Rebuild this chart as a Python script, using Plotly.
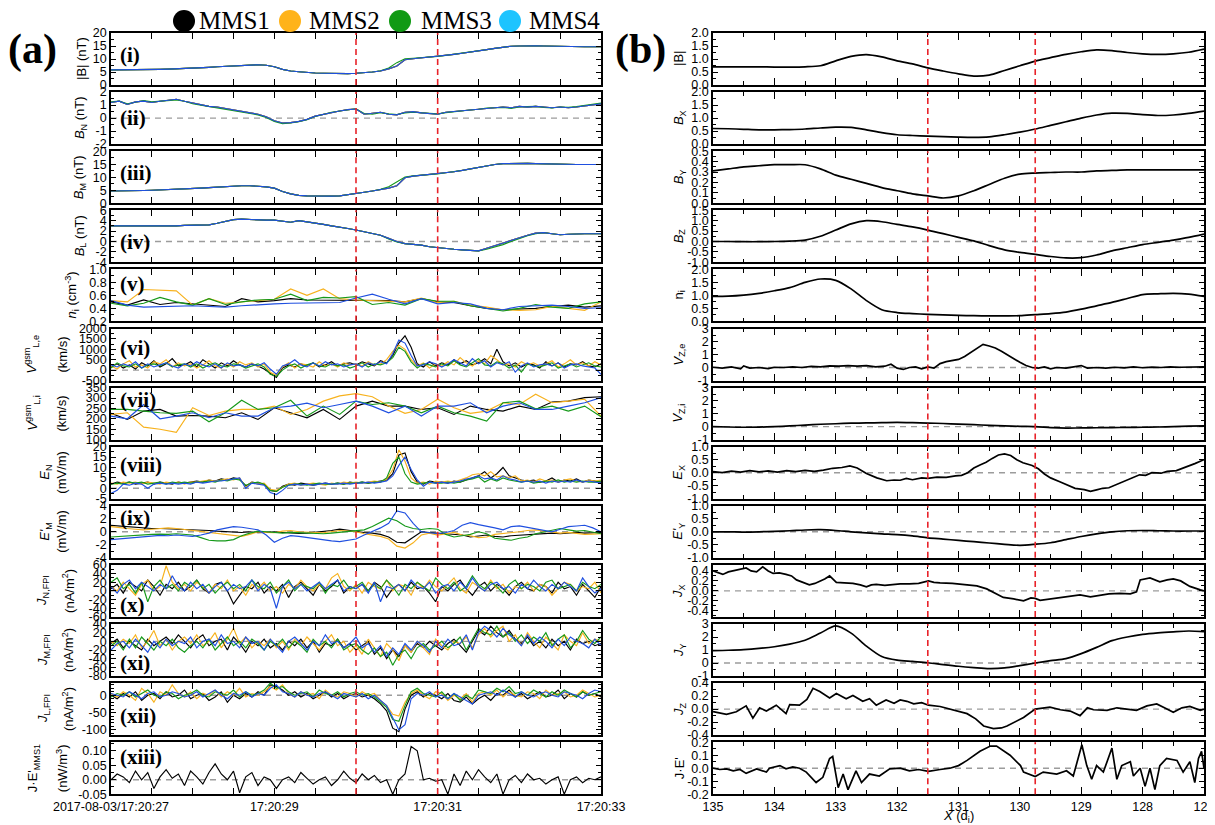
import numpy as np
import plotly.graph_objects as go

# ======================= DATA =======================
SPACECRAFT = ["MMS1", "MMS2", "MMS3", "MMS4"]

TIME_RANGE = [27.0, 33.0]            # seconds after 2017-08-03/17:20:00
TIME_TICK_VALUES = [27.0, 29.0, 31.0, 33.0]
TIME_TICK_TEXT = ["2017-08-03/17:20:27", "17:20:29", "17:20:31", "17:20:33"]
TIME_MARKERS = [30.0, 31.0]

X_RANGE = [135.0, 127.0]             # X (d_i)
X_TICK_VALUES = [135, 134, 133, 132, 131, 130, 129, 128, 127]
X_TICK_TEXT = ["135", "134", "133", "132", "131", "130", "129", "128", "127"]
X_MARKERS = [131.5, 129.75]

# ---- (a) magnetic field, 0.1 s cadence ----
BT_A = [5.8, 5.8, 5.9, 5.9, 5.9, 6.0, 6.0, 6.1, 6.2, 6.3,
        6.5, 6.6, 6.8, 7.0, 7.2, 7.4, 7.5, 7.7, 7.8, 7.6,
        7.0, 6.0, 5.4, 5.1, 4.8, 4.6, 4.5, 4.4, 4.4, 4.4,
        4.5, 4.7, 5.0, 5.4, 6.2, 7.3, 9.7, 10.1, 10.4, 10.7,
        11.0, 11.4, 11.8, 12.2, 12.6, 13.1, 13.6, 14.1, 14.6, 14.9,
        15.0, 15.1, 15.1, 15.0, 14.9, 14.9, 14.8, 14.8, 14.7, 14.7,
        14.7]
BT_C = [5.8, 5.8, 5.9, 5.9, 5.9, 6.0, 6.0, 6.1, 6.2, 6.3,
        6.5, 6.6, 6.8, 7.0, 7.2, 7.4, 7.5, 7.7, 7.8, 7.6,
        7.0, 6.0, 5.4, 5.1, 4.8, 4.6, 4.5, 4.4, 4.4, 4.4,
        4.5, 4.7, 5.0, 5.5, 6.5, 8.6, 10.1, 10.3, 10.5, 10.7,
        11.0, 11.4, 11.8, 12.2, 12.6, 13.1, 13.6, 14.1, 14.6, 14.9,
        15.0, 15.1, 15.1, 15.0, 14.9, 14.9, 14.8, 14.8, 14.7, 14.7,
        14.7]
BN_A = [1.2, 1.3, 1.05, 1.25, 1.3, 1.2, 1.3, 1.35, 1.45, 1.3,
        1.15, 1.0, 0.9, 0.85, 0.75, 0.65, 0.55, 0.45, 0.3, 0.1,
        -0.2, -0.38, -0.35, -0.25, -0.1, 0.15, 0.3, 0.45, 0.55, 0.65,
        0.7, 0.3, 0.35, 0.45, 0.3, 0.25, 0.45, 0.5, 0.4, 0.35,
        0.3, 0.45, 0.5, 0.55, 0.6, 0.7, 0.75, 0.8, 0.85, 0.8,
        0.9, 0.85, 0.9, 0.85, 0.8, 0.85, 0.8, 0.85, 0.95, 1.05,
        1.1]
BN_C = [1.25, 1.3, 1.1, 1.2, 1.35, 1.25, 1.3, 1.4, 1.4, 1.3,
        1.1, 1.0, 0.9, 0.8, 0.7, 0.6, 0.5, 0.4, 0.25, 0.05,
        -0.25, -0.42, -0.38, -0.28, -0.12, 0.12, 0.3, 0.45, 0.55, 0.65,
        0.72, 0.35, 0.3, 0.42, 0.32, 0.28, 0.4, 0.45, 0.42, 0.35,
        0.32, 0.42, 0.5, 0.55, 0.62, 0.68, 0.78, 0.8, 0.82, 0.75,
        0.85, 0.88, 0.9, 0.82, 0.78, 0.85, 0.82, 0.88, 0.98, 1.1,
        1.15]
BM_A = [4.7, 4.7, 4.8, 4.8, 4.9, 5.0, 5.1, 5.2, 5.3, 5.5,
        5.6, 5.8, 6.0, 6.2, 6.4, 6.6, 6.7, 6.7, 6.6, 6.3,
        5.8, 4.5, 3.6, 3.0, 2.8, 2.7, 2.7, 2.7, 2.8, 3.2,
        3.8, 4.2, 4.7, 5.2, 5.8, 6.7, 9.8, 10.4, 10.7, 11.0,
        11.3, 11.7, 12.1, 12.6, 13.2, 13.8, 14.4, 14.9, 15.2, 15.3,
        15.3, 15.3, 15.2, 15.1, 15.0, 15.0, 14.9, 14.9, 14.9, 14.9,
        14.9]
BM_C = [4.7, 4.7, 4.8, 4.8, 4.9, 5.0, 5.1, 5.2, 5.3, 5.5,
        5.6, 5.8, 6.0, 6.2, 6.4, 6.6, 6.7, 6.7, 6.6, 6.3,
        5.8, 4.5, 3.6, 3.0, 2.8, 2.7, 2.7, 2.7, 2.8, 3.2,
        3.8, 4.2, 4.7, 5.3, 6.3, 8.2, 10.1, 10.5, 10.7, 11.0,
        11.3, 11.7, 12.1, 12.6, 13.2, 13.8, 14.4, 14.9, 15.2, 15.3,
        15.3, 15.3, 15.2, 15.1, 15.0, 15.0, 14.9, 14.9, 14.9, 14.9,
        14.9]
BL_A = [3.0, 3.0, 2.9, 2.9, 3.0, 2.9, 3.0, 3.0, 3.0, 3.1,
        3.1, 3.1, 3.2, 3.5, 3.9, 4.2, 4.3, 4.2, 4.1, 4.1,
        4.1, 3.9, 3.7, 4.0, 3.8, 3.5, 3.3, 3.0, 2.8, 2.5,
        2.2, 1.9, 1.5, 1.2, 0.6, 0.0, -0.4, -0.5, -0.7, -1.0,
        -1.2, -1.4, -1.5, -1.6, -1.7, -1.8, -1.3, -0.8, -0.3, 0.3,
        0.8, 1.2, 1.6, 1.7, 1.5, 1.3, 1.4, 1.5, 1.5, 1.5,
        1.5]
BL_C = [3.0, 3.0, 2.9, 2.9, 3.0, 2.9, 3.0, 3.0, 3.0, 3.1,
        3.1, 3.1, 3.2, 3.5, 3.9, 4.2, 4.3, 4.2, 4.1, 4.1,
        4.1, 3.9, 3.7, 4.0, 3.8, 3.5, 3.3, 3.0, 2.8, 2.5,
        2.2, 1.9, 1.5, 1.2, 0.5, -0.1, -0.4, -0.5, -0.7, -1.0,
        -1.2, -1.4, -1.5, -1.6, -1.7, -1.8, -1.5, -1.1, -0.6, 0.0,
        0.6, 1.1, 1.5, 1.7, 1.5, 1.3, 1.4, 1.5, 1.5, 1.5,
        1.5]

# ---- ion density, 0.2 s cadence ----
NI_1 = [0.50, 0.45, 0.53, 0.46, 0.49, 0.47, 0.46, 0.43, 0.55, 0.50, 0.52, 0.55, 0.53, 0.53, 0.52, 0.53,
        0.52, 0.52, 0.50, 0.55, 0.50, 0.49, 0.44, 0.40, 0.38, 0.39, 0.40, 0.43, 0.45, 0.42, 0.44]
NI_2 = [0.52, 0.50, 0.69, 0.68, 0.67, 0.45, 0.55, 0.48, 0.50, 0.52, 0.54, 0.70, 0.60, 0.70, 0.55, 0.53,
        0.52, 0.51, 0.50, 0.56, 0.49, 0.51, 0.45, 0.42, 0.38, 0.37, 0.38, 0.43, 0.40, 0.37, 0.50]
NI_3 = [0.48, 0.44, 0.48, 0.57, 0.50, 0.45, 0.55, 0.46, 0.50, 0.53, 0.54, 0.62, 0.52, 0.57, 0.56, 0.58,
        0.46, 0.49, 0.45, 0.55, 0.51, 0.51, 0.44, 0.40, 0.36, 0.40, 0.46, 0.42, 0.40, 0.47, 0.50]
NI_4 = [0.52, 0.45, 0.42, 0.43, 0.44, 0.44, 0.43, 0.42, 0.44, 0.46, 0.47, 0.48, 0.48, 0.48, 0.49, 0.56,
        0.62, 0.54, 0.47, 0.55, 0.47, 0.49, 0.47, 0.40, 0.38, 0.43, 0.44, 0.45, 0.43, 0.40, 0.41]

# ---- electron outflow V_L,e, 0.075 s cadence ----
VLE_1 = [150, 300, 100, 250, 50, 350, 200, 450, 150, 300, 550, 200, 250,
         400, 150, 500, 300, 100, 350, 200, 450, 250, 150, 300, 200, 50, -150,
         -350, 100, 250, 150, 300, 200, 350, 150, 250, 400, 200, 300, 350,
         250, 400, 300, 200, 450, 350, 700, 1300, 1650, 1100, 300, 150, 400, 200,
         350, 250, 500, 300, 450, 250, 350, 550, 300, 1000, 400, 200, 350,
         150, 300, 250, 100, 400, 200, 350, 150, 300, 250, 400, 200, 150, 300]
VLE_2 = [200, 50, 300, 450, 150, 250, 100, 400, 300, 500, 150, 350, 200,
         300, 100, 250, 450, 200, 100, 300, 150, 400, 250, 350, 150, 300, -100,
         -250, 150, 350, 100, 300, 250, 150, 400, 200, 300, 150, 350, 250,
         300, 200, 400, 250, 300, 500, 900, 1200, 1000, 500, 200, 350, 100, 300,
         200, 400, 250, 600, 350, 200, 450, 300, 700, 500, 250, 300, 150,
         400, 250, 350, 200, 300, 450, 150, 300, 500, 250, 350, 200, 400, 250]
VLE_3 = [100, 350, 200, 150, 300, 100, 250, 300, 200, 350, 150, 250, 300,
         150, 300, 100, 250, 350, 200, 150, 300, 250, 100, 200, 300, 150, -200,
         -300, 0, 200, 300, 100, 250, 350, 200, 150, 300, 200, 250, 100,
         200, 350, 150, 300, 250, 350, 600, 1100, 900, 400, 100, 300, 250, 150,
         300, 200, 450, 250, 150, 350, 550, 250, 200, 400, 300, 100, 250,
         -100, 300, 200, 150, 250, 350, 100, 200, 300, 150, 250, 350, 200, 150]
VLE_4 = [250, 150, 300, 200, 400, 100, 300, 150, 250, 350, 200, 100, 300,
         200, 400, 250, 150, 300, 100, 350, 200, 250, 150, 300, 200, 350, 50,
         -200, 200, 300, 500, 250, 150, 350, 200, 400, 250, 300, 150, 250,
         300, 150, 350, 250, 400, 300, 800, 1450, 1300, 700, 200, 250, 400, 300,
         150, 300, 500, 350, 200, 550, 300, 450, 150, 350, 250, 400, -100,
         200, 350, 150, 250, 300, 200, 350, 100, 250, 300, 200, 150, 100, -200]

# ---- ion outflow V_L,i, 0.2 s cadence ----
VLI_1 = [226, 197, 237, 245, 213, 216, 213, 205, 229, 197, 253, 229, 205, 245, 197, 261,
         285, 261, 261, 245, 253, 221, 261, 245, 237, 261, 245, 281, 285, 302, 306]
VLI_2 = [221, 229, 160, 150, 135, 253, 216, 237, 245, 245, 261, 221, 245, 285, 310, 321,
         306, 261, 226, 245, 294, 253, 226, 237, 277, 269, 318, 277, 285, 294, 213]
VLI_3 = [245, 245, 237, 229, 226, 237, 186, 229, 289, 245, 253, 289, 213, 261, 221, 285,
         269, 277, 261, 229, 261, 229, 213, 189, 277, 285, 248, 261, 237, 261, 210]
VLI_4 = [213, 200, 269, 200, 213, 229, 205, 229, 213, 213, 253, 261, 275, 253, 269, 285,
         261, 229, 261, 213, 261, 261, 277, 229, 261, 277, 245, 245, 261, 277, 302]

# ---- E_N, 0.075 s cadence ----
EN_1 = [2, 3, 2.5, 3, 2, 2.5, 3, 2, 3, 2.5, 2, 3, 2.5,
        3, 3.5, 3, 4, 3.5, 4.5, 4, 5, 4.5, 1, 3, 2.5, 2, -1,
        -1.5, 1, 2, 1.5, 2.5, 2, 1.5, 2, 2.5, 2, 2.5, 2, 3,
        2.5, 3, 2.5, 3, 3.5, 4, 7, 16, 17, 8, 3, 2, 3.5, 3,
        3, 2.5, 3.5, 3, 4, 5, 6, 8, 5, 7, 10, 6, 5,
        4, 3.5, 4, 3, 3.5, 5, 3, 4, 3.5, 4.5, 3, 4, 3.5, 3]
EN_2 = [2.5, 2, 3, 2.5, 3, 2, 3, 2.5, 2, 3, 2.5, 3, 2,
        3, 3, 3.5, 4, 3.5, 4, 4.5, 4, 5, 0.5, 3, 2, 2.5, -0.5,
        -1, 0.5, 2, 2.5, 1.5, 2, 2.5, 2, 1.5, 2.5, 2, 3, 2.5,
        3, 2.5, 3, 3.5, 3, 4.5, 9, 18.5, 13, 5, 2.5, 3, 2, 3.5,
        3, 3.5, 3, 4, 5, 6.5, 7, 6, 8, 5.5, 6, 5, 6,
        3.5, 4, 3, 4.5, 3.5, 4, 3, 4, 4.5, 3.5, 3, 4, 3.5, 4]
EN_3 = [2, 2.5, 2, 3, 2.5, 3, 2, 2.5, 3, 2, 3, 2.5, 3,
        2.5, 3, 3, 3.5, 3, 4, 3.5, 4.5, 4, 1.5, 2.5, 3, 2, -1,
        -1.5, 0.5, 1.5, 2, 2, 1.5, 2, 2.5, 2, 2, 2.5, 2, 2.5,
        2.5, 3, 2.5, 3, 3, 5, 12, 15, 7, 3, 2, 2.5, 3, 2.5,
        2.5, 3, 2.5, 3, 4, 4.5, 5.5, 3, 4.5, 3.5, 5, 4, 3.5,
        3, 3.5, 2.5, 3, 3.5, 3, 4, 3, 3.5, 3, 3.5, 3, 3, 3.5]
EN_4 = [-2.5, -1, 2, 1.5, 2.5, 2, 0, 2, 2.5, 2, 2.5, 2, 2.5,
        2, 3, 2.5, 3, 3.5, 3.5, 4, 4.5, 5, 0, 2.5, 2, 1.5, -2,
        -3, -1, 1.5, 2, 1.5, 2, 1.5, 2, 2.5, 2, 2, 2.5, 2,
        2.5, 2.5, 3, 2.5, 3, 3.5, 6, 11, 15, 9, 4, 1, 3, 2.5,
        3, 2.5, 3, 3.5, 4.5, 5, 6, 4.5, 5, 4, 6, 4.5, 4,
        3, 3.5, 3, 3.5, 2.5, 3.5, 3, 3.5, 3, 4, 3, 3.5, 3, 2.5]

# ---- E'_M, 0.1 s cadence ----
EM_1 = [1.0, 0.9, 0.7, 0.6, 0.55, 0.5, 0.5, 0.45, 0.4, 0.45,
        0.4, 0.3, 0.2, 0.1, 0.0, -0.05, -0.1, 0.0, -0.15, -0.1,
        0.0, -0.1, -0.2, -0.25, -0.2, -0.1, 0.0, 0.2, 0.4, 0.2,
        0.0, -0.1, -0.2, -0.4, -0.8, -1.6, -1.7, -0.8, 0.0, -0.1,
        -0.2, -0.25, -0.3, -0.5, -0.8, -0.6, -0.5, -0.7, -0.8, -0.6,
        -0.5, -0.4, -0.35, -0.3, -0.2, -0.3, -0.2, -0.1, -0.2, -0.1,
        -0.1]
EM_2 = [0.8, 0.6, 0.5, 0.4, 0.3, 0.4, 0.5, 0.6, 0.5, 0.35,
        0.2, 0.0, -0.1, -0.2, -0.4, -0.6, -0.7, -0.4, 0.0, -0.1,
        -0.15, 0.1, 0.2, 0.0, -0.1, -0.1, -0.15, 0.0, 0.2, 0.1,
        0.0, -0.3, -0.5, -0.7, -1.1, -2.2, -2.5, -1.7, -0.5, -0.2,
        -0.5, -0.3, -0.1, -0.5, -0.6, -0.9, -0.8, -0.4, -0.3, -0.1,
        0.0, 0.2, 0.3, 0.1, 0.0, -0.2, -0.1, -0.3, -0.4, -0.35,
        -0.3]
EM_3 = [-0.8, -0.7, -0.6, -0.5, -0.4, -0.4, -0.35, -0.4, -0.3, -0.4,
        -0.5, -0.9, -1.3, -1.4, -1.4, -1.2, -0.6, -0.2, 0.1, 0.0,
        -0.15, -0.2, -0.1, -0.15, -0.25, -0.3, -0.3, -0.2, -0.1, 0.0,
        0.1, 0.3, 0.8, 1.4, 2.1, 1.7, 0.9, 0.5, 0.35, 0.5,
        0.4, -0.4, -0.8, -0.6, -0.4, 0.0, -0.3, -1.0, -1.2, -1.3,
        -1.0, -0.8, -0.3, 0.0, 0.3, 0.5, 0.3, 0.1, 0.2, 0.0,
        -0.3]
EM_4 = [-1.2, -1.1, -0.9, -0.8, -0.7, -0.6, -0.55, -0.6, -0.5, -0.6,
        -0.7, -0.5, -0.2, 0.3, 0.6, 0.8, 0.7, 0.5, 0.3, -0.5,
        -1.6, -1.0, -0.6, -0.7, -0.9, -1.0, -1.2, -1.4, -1.5, -1.3,
        -1.1, -0.5, 0.0, 0.6, 1.3, 3.2, 2.9, 1.3, 0.0, -0.2,
        -0.3, -0.1, 0.2, 1.0, 1.4, 1.1, 0.9, 0.6, 0.3, 0.8,
        0.9, 0.7, 0.5, 0.2, 0.0, 0.4, 0.8, 0.9, 1.0, 0.6,
        0.0]

# ---- FPI currents, 0.075 s cadence ----
JN_1 = [5, 15, -5, 20, 10, 0, 25, 10, -10, 15, 5, 20, 0,
        10, 25, 5, -5, 15, 20, 0, -30, -10, 10, 5, 20, -5, 10,
        0, 15, -15, 10, 20, 5, -10, 15, 0, 10, 25, -5, 10,
        5, 15, 0, 20, 10, -15, 5, 15, 0, 20, 5, 10, -5, -25,
        10, 0, 15, 25, 5, -10, 10, 20, 0, 15, 5, -10, 10,
        20, 5, 0, 15, 10, -5, 20, 5, 10, -10, 15, 0, -15, 10]
JN_2 = [10, 0, 20, 5, -10, 15, 25, 0, 10, 58, 20, 5, 15,
        0, 20, 10, -5, 15, 5, 25, 0, 10, -10, 15, 5, 20, 0,
        10, -5, 15, 5, 25, 10, 0, 15, 5, 30, 40, 10, 0,
        15, -5, 20, 10, 5, 25, 0, 15, 10, -10, 20, 5, 25, 10,
        0, 15, 30, 5, -5, 20, 10, 0, 25, 5, 15, -5, 10,
        5, 20, 0, 15, 10, -10, 5, 20, 15, 0, 10, 5, 20, -5]
JN_3 = [20, 30, 5, 15, -5, 20, -25, 10, 25, 5, 15, 0, 20,
        10, 25, 5, 15, -5, 10, 20, 5, 15, 0, 25, 10, 5, 20,
        -5, 10, 25, 0, 15, 10, 5, 20, -5, 15, 10, 25, 5,
        10, 20, 0, 15, 5, 25, 10, -10, 15, 5, 20, 10, 0, 30,
        15, 5, 20, 0, 10, 35, 15, 5, 20, 10, -5, 15, 25,
        5, 15, 10, 0, 20, 25, 5, 10, 15, 0, 20, 10, 5, 15]
JN_4 = [10, -5, 15, 25, 5, 20, 10, 0, 15, 5, 35, 10, 0,
        20, 5, 15, -5, 10, 20, 0, 15, 5, 10, 25, 0, 15, 5,
        -40, 10, 20, 5, 15, 0, 10, 20, 5, 15, 25, 0, 10,
        5, 15, -5, 20, -25, 10, 5, 15, 0, 25, 10, 5, 20, -5,
        10, 15, 0, 20, 5, 30, 10, 0, 15, 20, 5, 10, -5,
        15, 5, 25, 10, 0, 15, 5, 20, 10, 0, 30, 10, -5, 5]

JM_1 = [-5, 5, -15, 0, -10, -20, 5, -10, 0, 10, -5, 15, 0,
        -15, 5, 15, -10, 0, 5, -20, 10, -5, -25, 0, -10, 5, -15,
        -5, -20, 0, -10, 5, -15, 0, -25, -5, -10, 5, -15, -5,
        -20, -10, 0, -30, -15, -40, -20, -35, -10, -25, -5, -15, 0, -10,
        -20, -5, 5, -10, -25, 0, 25, 15, 35, 20, 10, 25, 5,
        -5, 10, -10, 0, -15, 5, -10, 0, -20, 5, -5, 0, -10, -5]
JM_2 = [0, -10, 5, -5, 15, -15, 0, 25, -10, 5, -20, 0, 10,
        -5, 15, -10, 0, 20, -15, 5, 30, -5, 10, -15, 0, -10, 5,
        -15, 0, -20, 5, -10, 10, -5, -20, 0, 15, -10, 0, -25,
        -10, -30, 5, -15, -35, -5, -20, -45, -10, -25, 0, -15, -30, 5,
        -10, -20, 0, -5, 10, -15, 15, 30, 10, 25, 35, 0, 15,
        -10, 20, 0, -15, 10, -5, -20, 15, 0, -10, 20, -5, 5, 0]
JM_3 = [-10, 0, -20, 5, -15, 10, -5, -20, 0, -10, 5, -15, -25,
        -10, 0, -15, 5, -20, -5, 10, -10, 0, -15, 5, -5, -20, 0,
        -10, 5, -15, 0, -10, -25, 5, -10, 0, -15, 5, -20, -10,
        -5, -20, -30, -15, -35, -25, -55, -30, -20, -40, -15, -5, -20, -10,
        0, -15, -5, 10, -20, 5, 30, 20, 15, 35, 10, 20, 0,
        15, -5, 10, 0, 20, -10, 5, 15, -15, 0, 25, 5, -5, 10]
JM_4 = [-20, -5, 0, -15, 5, -10, -25, 0, -15, 5, -10, 0, -5,
        10, -15, 0, 5, -10, 15, -5, 0, -15, 10, -5, 0, -20, 5,
        -10, -25, 0, 10, -5, -20, 0, -10, 15, -5, 0, -15, -5,
        10, -15, -5, -25, -10, -35, -15, -30, -5, -20, 0, -10, -25, 0,
        -15, 5, -10, -5, 15, -20, 20, 35, 25, 10, 30, 15, 5,
        -10, 15, -5, 10, 0, -15, 5, -10, 10, 0, -5, -15, 5, -10]

JL_1 = [0, -10, 5, -5, 10, -15, 0, 5, -10, 10, -5, 0, 15,
        -10, 0, 5, -15, -5, 10, -20, 0, -10, 5, -5, 10, 0, 30,
        25, 15, 0, 10, -5, 5, -10, 0, 10, -5, 5, -10, 0,
        5, -5, 0, -10, -25, -45, -95, -105, -40, 0, 10, -5, 5, 0,
        -10, 5, -15, -20, -5, -25, -10, 0, -15, 5, 0, 15, -5,
        5, -10, 0, 10, -5, 0, 15, -10, 5, -5, 10, 0, 5, -5]
JL_2 = [5, -5, 10, 0, -15, 20, 5, -20, 10, 0, 30, 5, -5,
        10, -10, 5, 0, 15, -5, 10, 0, 20, -5, 5, 0, 10, 25,
        15, 30, 5, -5, 10, 0, 5, -10, 15, 0, -5, 10, 5,
        -5, 10, 0, 5, -15, -30, -55, -60, -20, 5, 15, 0, -10, 10,
        5, -15, 0, -10, 5, -20, 5, 10, 0, 15, -5, 10, 0,
        -5, 10, 5, -10, 15, 0, 5, 10, -5, 0, 15, 5, -5, 0]
JL_3 = [-5, 5, 0, 10, -5, 5, 15, 0, -5, 10, 5, -10, 0,
        5, 15, 0, -5, 10, 5, 0, 15, -5, 10, 0, 5, 15, 35,
        20, 25, 10, 0, 5, 10, -5, 15, 5, 0, 10, -5, 5,
        10, 0, 5, -5, -20, -35, -70, -75, -30, 10, 20, 5, 0, -5,
        10, -10, 5, -15, 0, -10, 15, 10, 5, 20, 10, 25, 5,
        10, 0, 15, 5, -5, 10, 0, 15, 5, -5, 10, 0, 5, 10]
JL_4 = [5, 0, -5, 10, 0, -10, 5, 10, -5, 0, 10, 5, -5,
        0, 10, -5, 5, 15, 0, -10, 5, 0, 10, -5, 5, 0, 20,
        30, 10, 5, -5, 10, 0, -5, 5, 10, 0, -10, 5, 0,
        -5, 5, -10, 0, -15, -30, -65, -100, -85, -10, 5, 0, 10, -5,
        0, -10, 5, -5, -15, -25, 0, 5, 10, 0, 15, 5, -5,
        10, 0, -5, 5, 10, 0, -5, 10, 5, 0, -10, 5, 15, 10]

JE_1 = [0.0, 0.02, 0.01, -0.01, 0.03, 0.0, 0.025, -0.03, 0.01, 0.035, 0.005, 0.02, -0.02,
        0.03, 0.01, -0.015, 0.025, 0.055, 0.02, 0.0, 0.03, -0.045, 0.01, 0.025, -0.02, 0.01, 0.0,
        -0.03, 0.0, 0.01, -0.01, 0.025, 0.005, -0.015, 0.0, 0.01, -0.02, 0.0, 0.03, 0.005,
        -0.01, 0.02, 0.0, 0.015, -0.01, 0.0, -0.05, 0.0, 0.02, 0.115, 0.10, 0.0, 0.005, -0.005,
        0.0, -0.05, 0.02, -0.02, 0.03, 0.0, 0.035, 0.01, -0.01, 0.02, -0.05, 0.0, 0.015,
        -0.01, 0.02, 0.0, 0.005, -0.015, 0.0, 0.01, -0.05, 0.0, 0.01, -0.01, 0.005, 0.0, 0.01]

# ---- (b) simulation cut, 0.25 d_i spacing from X=135 to 127 ----
R_BT = [0.70, 0.70, 0.70, 0.70, 0.69, 0.69, 0.70, 0.74, 0.93, 1.10, 1.17, 1.08, 0.93, 0.81, 0.66, 0.54, 0.43,
        0.34, 0.38, 0.56, 0.74, 0.92, 1.05, 1.18, 1.28, 1.35, 1.32, 1.25, 1.20, 1.18, 1.20, 1.26, 1.38]
R_BX = [0.60, 0.59, 0.57, 0.55, 0.55, 0.56, 0.58, 0.62, 0.65, 0.64, 0.55, 0.44, 0.36, 0.33, 0.31, 0.29, 0.27,
        0.26, 0.28, 0.36, 0.46, 0.58, 0.72, 0.86, 1.00, 1.12, 1.19, 1.18, 1.13, 1.10, 1.12, 1.18, 1.27]
R_BY = [0.31, 0.33, 0.35, 0.36, 0.37, 0.37, 0.37, 0.33, 0.27, 0.23, 0.19, 0.15, 0.12, 0.09, 0.07, 0.05, 0.07,
        0.12, 0.18, 0.24, 0.28, 0.29, 0.295, 0.30, 0.30, 0.31, 0.315, 0.32, 0.32, 0.32, 0.32, 0.32, 0.32]
R_BZ = [0.00, 0.00, -0.01, -0.01, 0.00, 0.02, 0.07, 0.25, 0.55, 0.85, 1.00, 0.95, 0.82, 0.70, 0.55, 0.38, 0.20,
        0.03, -0.20, -0.40, -0.52, -0.62, -0.72, -0.79, -0.78, -0.65, -0.45, -0.30, -0.15, -0.04, 0.07, 0.20, 0.36]
R_NI = [0.96, 0.97, 1.01, 1.08, 1.18, 1.30, 1.50, 1.63, 1.58, 1.25, 0.80, 0.45, 0.34, 0.30, 0.27, 0.25, 0.23,
        0.22, 0.21, 0.21, 0.22, 0.26, 0.30, 0.36, 0.47, 0.60, 0.73, 0.88, 1.03, 1.06, 1.08, 1.05, 0.96]
R_VZI = [0.0, -0.03, -0.05, -0.04, 0.0, 0.05, 0.12, 0.18, 0.22, 0.26, 0.28, 0.30, 0.32, 0.30, 0.27, 0.24, 0.19,
         0.15, 0.10, 0.06, 0.02, 0.0, -0.08, -0.12, -0.10, -0.09, -0.08, -0.06, -0.05, -0.03, 0.0, 0.03, 0.06]
R_EY = [0.0, 0.0, -0.01, 0.0, 0.02, 0.04, 0.07, 0.08, 0.05, 0.0, -0.04, -0.08, -0.11, -0.16, -0.23, -0.28, -0.33,
        -0.38, -0.43, -0.48, -0.52, -0.48, -0.42, -0.30, -0.18, -0.08, 0.0, 0.04, 0.05, 0.04, 0.03, 0.03, 0.03]
R_JY = [0.95, 0.98, 1.03, 1.12, 1.25, 1.45, 1.75, 2.30, 2.85, 2.30, 1.30, 0.50, 0.22, 0.12, 0.02, -0.12, -0.25,
        -0.35, -0.43, -0.38, -0.20, 0.0, 0.18, 0.34, 0.72, 1.20, 1.72, 2.00, 2.20, 2.32, 2.40, 2.46, 2.42]

R_VZE_X = [135.0, 134.85, 134.7, 134.55, 134.5, 134.4, 134.25, 134.1, 134.0, 133.85, 133.7, 133.55, 133.4,
           133.25, 133.1, 132.95, 132.8, 132.65, 132.5, 132.35, 132.2, 132.1, 132.0, 131.9, 131.8, 131.7,
           131.6, 131.5, 131.4, 131.3, 131.2, 131.1, 131.0, 130.9, 130.8, 130.7, 130.6, 130.5, 130.4, 130.3,
           130.2, 130.1, 130.0, 129.9, 129.8, 129.7, 129.6, 129.5, 129.4, 129.25, 129.1, 129.0, 128.9,
           128.75, 128.6, 128.45, 128.3, 128.15, 128.0, 127.85, 127.7, 127.55, 127.4, 127.25, 127.1, 127.0]
R_VZE = [0.02, -0.05, 0.05, -0.1, 0.12, -0.05, 0.0, -0.08, 0.02, 0.0, 0.05, 0.0, 0.08,
         0.05, 0.12, 0.1, 0.15, 0.1, 0.15, 0.05, 0.1, 0.25, -0.05, -0.15, 0.0, 0.05,
         -0.1, 0.05, -0.05, 0.3, 0.45, 0.55, 0.62, 0.85, 1.15, 1.45, 1.78, 1.65, 1.5, 1.25,
         0.95, 0.65, 0.4, 0.15, 0.0, -0.05, 0.05, -0.1, 0.0, -0.05, 0.05, 0.15, -0.05,
         0.0, -0.05, 0.02, -0.03, 0.05, -0.02, 0.03, 0.0, 0.05, 0.02, 0.05, 0.03, 0.05]

R_EX_X = [135.0, 134.85, 134.7, 134.55, 134.4, 134.25, 134.1, 133.95, 133.8, 133.65, 133.5, 133.35, 133.2,
          133.05, 132.9, 132.77, 132.65, 132.5, 132.33, 132.17, 132.05, 131.95, 131.85, 131.75, 131.6, 131.5,
          131.35, 131.2, 131.05, 130.95, 130.85, 130.75, 130.65, 130.55, 130.45, 130.35, 130.25, 130.15,
          130.05, 129.95, 129.8, 129.7, 129.6, 129.5, 129.35, 129.2, 129.1, 128.95, 128.85, 128.75, 128.65,
          128.55, 128.45, 128.35, 128.25, 128.15, 128.05, 127.95, 127.85, 127.7, 127.6, 127.45, 127.3,
          127.15, 127.0]
R_EX = [0.04, 0.0, 0.06, 0.02, 0.08, 0.03, 0.07, 0.02, 0.08, 0.04, 0.09, 0.05, 0.1,
        0.17, 0.2, 0.26, 0.18, -0.03, -0.2, -0.31, -0.28, -0.29, -0.22, -0.27, -0.2, -0.22,
        -0.17, -0.18, -0.12, -0.1, 0.0, 0.18, 0.3, 0.4, 0.55, 0.68, 0.72, 0.66,
        0.5, 0.38, 0.28, 0.15, -0.05, -0.2, -0.35, -0.5, -0.6, -0.65, -0.72, -0.66, -0.6,
        -0.58, -0.48, -0.38, -0.28, -0.2, -0.08, -0.1, 0.0, -0.02, 0.05, 0.08, 0.2,
        0.35, 0.5]

R_JX_X = [135.0, 134.92, 134.84, 134.75, 134.67, 134.56, 134.46, 134.38, 134.29, 134.19, 134.1, 134.02,
          133.92, 133.81, 133.72, 133.64, 133.53, 133.43, 133.34, 133.26, 133.18, 133.1, 132.99, 132.86,
          132.72, 132.6, 132.5, 132.42, 132.34, 132.2, 132.07, 131.95, 131.8, 131.65, 131.49, 131.4, 131.3,
          131.1, 130.86, 130.7, 130.54, 130.4, 130.27, 130.1, 129.94, 129.82, 129.75, 129.67, 129.5,
          129.34, 129.2, 129.02, 128.85, 128.69, 128.55, 128.37, 128.2, 128.1, 128.04, 127.88, 127.72,
          127.6, 127.5, 127.38, 127.23, 127.06, 127.0]
R_JX = [0.40, 0.36, 0.33, 0.38, 0.40, 0.43, 0.46, 0.40, 0.38, 0.48, 0.40, 0.35,
        0.36, 0.33, 0.30, 0.22, 0.16, 0.12, 0.15, 0.19, 0.24, 0.30, 0.17, 0.16,
        0.15, 0.12, 0.08, 0.12, 0.13, 0.11, 0.13, 0.14, 0.14, 0.15, 0.20, 0.17, 0.16,
        0.15, 0.12, 0.10, 0.04, -0.05, -0.13, -0.16, -0.20, -0.14, -0.15, -0.19, -0.16,
        -0.13, -0.11, -0.08, -0.12, -0.08, -0.06, -0.05, -0.06, -0.02, 0.22, 0.26, 0.18,
        0.22, 0.24, 0.20, 0.09, 0.02, 0.0]

R_JZ_X = [135.0, 134.78, 134.62, 134.46, 134.35, 134.24, 134.13, 133.97, 133.81, 133.75, 133.59, 133.47,
          133.37, 133.26, 133.1, 132.99, 132.83, 132.72, 132.56, 132.45, 132.34, 132.18, 132.05, 131.95,
          131.84, 131.73, 131.6, 131.49, 131.3, 131.14, 131.0, 130.86, 130.72, 130.59, 130.43, 130.3,
          130.21, 130.08, 129.94, 129.75, 129.63, 129.51, 129.34, 129.18, 129.02, 128.9, 128.8, 128.58,
          128.42, 128.26, 128.1, 127.93, 127.77, 127.62, 127.5, 127.36, 127.23, 127.06, 127.0]
R_JZ = [-0.04, -0.08, -0.04, 0.05, -0.14, 0.02, -0.03, 0.06, -0.07, 0.07, 0.06, 0.15,
        0.32, 0.27, 0.17, 0.24, 0.16, 0.21, 0.12, 0.16, 0.06, 0.14, 0.09, 0.14,
        0.12, 0.08, 0.10, 0.06, 0.04, 0.0, -0.03, -0.07, -0.15, -0.26, -0.30, -0.29,
        -0.26, -0.20, -0.13, 0.0, 0.02, 0.03, -0.01, -0.03, -0.10, 0.02, -0.01, -0.02,
        0.02, 0.0, -0.02, 0.05, 0.08, 0.01, -0.05, 0.02, 0.04, -0.02, 0.0]

R_JE_X = [135.0, 134.89, 134.78, 134.67, 134.56, 134.46, 134.29, 134.13, 134.08, 133.91, 133.81, 133.7,
          133.59, 133.48, 133.32, 133.21, 133.1, 133.05, 132.96, 132.88, 132.8, 132.67, 132.58, 132.45,
          132.29, 132.12, 131.95, 131.8, 131.65, 131.49, 131.3, 131.14, 131.0, 130.86, 130.65, 130.48,
          130.38, 130.16, 129.99, 129.94, 129.75, 129.62, 129.4, 129.24, 129.13, 128.99, 128.91, 128.83,
          128.75, 128.64, 128.5, 128.42, 128.34, 128.2, 128.15, 128.04, 127.96, 127.88, 127.8, 127.72,
          127.61, 127.44, 127.34, 127.23, 127.15, 127.09, 127.04, 127.0]
R_JE = [0.0, -0.01, -0.005, -0.02, -0.01, -0.04, -0.005, -0.03, 0.0, 0.02, -0.005, 0.01,
        0.0, -0.03, -0.11, -0.07, 0.075, 0.09, -0.15, -0.045, -0.165, -0.02, -0.11, -0.045,
        -0.06, -0.005, 0.0, -0.02, -0.01, -0.025, -0.01, 0.0, 0.02, 0.06, 0.13, 0.17,
        0.17, 0.1, 0.02, -0.03, -0.064, -0.03, -0.045, -0.02, -0.06, 0.18, 0.02, -0.085,
        0.02, -0.03, 0.155, -0.085, 0.02, 0.05, -0.06, 0.0, -0.14, 0.0, -0.165, 0.02,
        0.075, 0.06, -0.03, 0.05, -0.11, 0.075, 0.13, 0.0]

# ======================= FIGURE =======================
# The page puts the figure 8 px in from the window's top-left corner; all pixel
# positions below are window pixels converted with that 8 px offset.  The figure
# is made a little larger than the visible area so edge labels are never clipped.
OX, OY = 8, 8
W, H = 1215, 825
SANS = "Liberation Sans, Arial, sans-serif"
SERIF = "Liberation Serif, Times New Roman, serif"
LINE_COLORS = ["#000000", "#F7B21E", "#16991A", "#1F4FE0"]
LEGEND_COLORS = ["#000000", "#FFB31A", "#119A14", "#1DC4FF"]


def fx(px):
    return (px - OX) / W


def fy(py):
    return 1 - (py - OY) / H


LEFT_SERIES = [
    [BT_A, BT_A, BT_C, BT_A], [BN_A, BN_A, BN_C, BN_A], [BM_A, BM_A, BM_C, BM_A], [BL_A, BL_A, BL_C, BL_A],
    [NI_1, NI_2, NI_3, NI_4], [VLE_1, VLE_2, VLE_3, VLE_4], [VLI_1, VLI_2, VLI_3, VLI_4],
    [EN_1, EN_2, EN_3, EN_4], [EM_1, EM_2, EM_3, EM_4], [JN_1, JN_2, JN_3, JN_4],
    [JM_1, JM_2, JM_3, JM_4], [JL_1, JL_2, JL_3, JL_4], [JE_1],
]
# (range, tick start, tick stop, tick step, minor step, decimals, zero line)
LEFT_AXES = [
    ((0, 20), 0, 20, 5, 2.5, 0, False),
    ((-2, 2), -2, 2, 1, 0.5, 0, True),
    ((0, 20), 0, 20, 5, 2.5, 0, False),
    ((-4, 6), -4, 6, 2, 1, 0, True),
    ((0.2, 1.0), 0.2, 1.0, 0.2, 0.1, 1, False),
    ((-500, 2000), -500, 2000, 500, 250, 0, True),
    ((100, 350), 100, 350, 50, 25, 0, False),
    ((-5, 20), -5, 20, 5, 2.5, 0, True),
    ((-4, 4), -4, 4, 2, 1, 0, True),
    ((-60, 60), -60, 60, 20, 10, 0, True),
    ((-80, 40), -80, 40, 20, 10, 0, True),
    ((-115, 35), -100, 0, 50, 10, 0, True),
    ((-0.05, 0.13), -0.05, 0.10, 0.05, 0.025, 2, True),
]
LEFT_TITLES = [
    (["|B| (nT)"], [82]),
    (["<i>B</i><sub>N</sub> (nT)"], [80]),
    (["<i>B</i><sub>M</sub> (nT)"], [79]),
    (["<i>B</i><sub>L</sub> (nT)"], [80]),
    (["<i>n</i><sub>i</sub> (cm<sup>-3</sup>)"], [72]),
    (["<i>V</i><sup>gsm</sup><sub>L,e</sub>", "(km/s)"], [32, 62]),
    (["<i>V</i><sup>gsm</sup><sub>L,i</sub>", "(km/s)"], [32, 62]),
    (["<i>E</i><sub>N</sub>", "(mV/m)"], [46, 62]),
    (["<i>E'</i><sub>M</sub>", "(mV/m)"], [46, 62]),
    (["<i>J</i><sub>N,FPI</sub>", "(nA/m<sup>2</sup>)"], [43, 68]),
    (["<i>J</i><sub>M,FPI</sub>", "(nA/m<sup>2</sup>)"], [43, 68]),
    (["<i>J</i><sub>L,FPI</sub>", "(nA/m<sup>2</sup>)"], [43, 68]),
    (["J·E'<sub>MMS1</sub>", "(nW/m<sup>3</sup>)"], [33, 62]),
]
PANEL_LABELS = ["(i)", "(ii)", "(iii)", "(iv)", "(v)", "(vi)", "(vii)", "(viii)", "(ix)",
                "(x)", "(xi)", "(xii)", "(xiii)"]
PANEL_LABEL_Y = [55, 118, 173, 242, 284, 348, 400, 465, 518, 605, 663, 716, 757]

RIGHT_SERIES = [
    (None, R_BT, "spline"), (None, R_BX, "spline"), (None, R_BY, "spline"), (None, R_BZ, "spline"),
    (None, R_NI, "spline"), (R_VZE_X, R_VZE, "linear"), (None, R_VZI, "spline"),
    (R_EX_X, R_EX, "linear"), (None, R_EY, "spline"), (R_JX_X, R_JX, "linear"),
    (None, R_JY, "spline"), (R_JZ_X, R_JZ, "linear"), (R_JE_X, R_JE, "linear"),
]
RIGHT_AXES = [
    ((0, 2), 0, 2, 0.5, 0.25, 1, False),
    ((0, 2), 0, 2, 0.5, 0.25, 1, False),
    ((0, 0.5), 0, 0.5, 0.1, 0.05, 1, False),
    ((-1, 1.5), -1, 1.5, 0.5, 0.25, 1, True),
    ((0, 2), 0, 2, 0.5, 0.25, 1, False),
    ((-1, 3), -1, 3, 1, 0.5, 0, True),
    ((-1, 3), -1, 3, 1, 0.5, 0, True),
    ((-1, 1), -1, 1, 0.5, 0.25, 1, True),
    ((-1, 1), -1, 1, 0.5, 0.25, 1, True),
    ((-0.52, 0.52), -0.4, 0.4, 0.2, 0.1, 1, True),
    ((-1, 3), -1, 3, 1, 0.5, 0, True),
    ((-0.4, 0.4), -0.4, 0.4, 0.2, 0.1, 1, True),
    ((-0.2, 0.2), -0.2, 0.2, 0.1, 0.05, 1, True),
]
RIGHT_TITLES = ["|B|", "<i>B</i><sub>X</sub>", "<i>B</i><sub>Y</sub>", "<i>B</i><sub>Z</sub>",
                "n<sub>i</sub>", "<i>V</i><sub>Z,e</sub>", "<i>V</i><sub>Z,i</sub>",
                "<i>E</i><sub>X</sub>", "<i>E'</i><sub>Y</sub>", "<i>J</i><sub>X</sub>",
                "<i>J</i><sub>Y</sub>", "<i>J</i><sub>Z</sub>", "J·E'"]

# ---- geometry (window pixels) ----
LEFT_X_PX = (111, 601)
RIGHT_X_PX = (713, 1204)
TOP0, PITCH, PANEL_H = 33, 59.1, 52
NROW = 13


def fmt(v, dec):
    s = f"{v:.{dec}f}"
    if float(s) == 0:
        s = s.lstrip("-")
    return s


def arange_incl(a, b, step):
    n = int(round((b - a) / step))
    return [round(a + i * step, 6) for i in range(n + 1)]


def ydom(k):
    top = TOP0 + PITCH * k
    return [fy(top + PANEL_H), fy(top)]


def panel_center(k):
    return TOP0 + PITCH * k + PANEL_H / 2


fig = go.Figure()
layout = dict(width=W, height=H, margin=dict(l=0, r=0, t=0, b=0, autoexpand=False),
              paper_bgcolor="white", plot_bgcolor="white", showlegend=False)
shapes, annotations = [], []

axis_common = dict(showline=True, linecolor="black", linewidth=1.6, mirror="ticks",
                   ticks="inside", tickcolor="black", tickwidth=1.3, showgrid=False,
                   zeroline=False, automargin=False,
                   tickfont=dict(family=SANS, size=12.5, color="black"),
                   fixedrange=True)


def xref(n):
    return "x" if n == 1 else f"x{n}"


def yref(n):
    return "y" if n == 1 else f"y{n}"


def add_axes(n, k, xdom, xcfg, yrng, ycfg):
    xname = "xaxis" if n == 1 else f"xaxis{n}"
    yname = "yaxis" if n == 1 else f"yaxis{n}"
    layout[xname] = dict(axis_common, domain=xdom, anchor=yref(n), **xcfg)
    layout[yname] = dict(axis_common, domain=ydom(k), anchor=xref(n), range=list(yrng), **ycfg)


def yaxis_cfg(spec):
    rng, a, b, step, mstep, dec, zero = spec
    vals = arange_incl(a, b, step)
    mvals = [round(v, 6) for v in np.arange(np.ceil(rng[0] / mstep - 1e-9) * mstep, rng[1] + 1e-9, mstep)]
    return dict(tickmode="array", tickvals=vals, ticktext=[fmt(v, dec) for v in vals], ticklen=5,
                minor=dict(tickmode="array", tickvals=mvals, ticklen=3, ticks="inside",
                           tickcolor="black", tickwidth=1.1))


# ---------- left column ----------
t_ticks = arange_incl(TIME_RANGE[0], TIME_RANGE[1], 0.5)
for k in range(NROW):
    n = k + 1
    last = (k == NROW - 1)
    ttext = []
    for v in t_ticks:
        if last and v in TIME_TICK_VALUES:
            ttext.append(TIME_TICK_TEXT[TIME_TICK_VALUES.index(v)])
        else:
            ttext.append("")
    xcfg = dict(range=TIME_RANGE, tickmode="array", tickvals=t_ticks, ticktext=ttext, ticklen=6)
    add_axes(n, k, [fx(LEFT_X_PX[0]), fx(LEFT_X_PX[1])], xcfg, LEFT_AXES[k][0], yaxis_cfg(LEFT_AXES[k]))

    series = LEFT_SERIES[k]
    for i, y in enumerate(series):
        t = np.linspace(TIME_RANGE[0], TIME_RANGE[1], len(y))
        fig.add_trace(go.Scatter(x=t, y=y, mode="lines", xaxis=xref(n), yaxis=yref(n),
                                 line=dict(color=LINE_COLORS[i], width=1.15), hoverinfo="skip",
                                 name=SPACECRAFT[i]))
    if LEFT_AXES[k][6]:
        shapes.append(dict(type="line", xref=f"{xref(n)} domain", x0=0, x1=1, yref=yref(n), y0=0, y1=0,
                           line=dict(color="#9c9c9c", width=1.4, dash="6px,5px"), layer="below"))
    for m in TIME_MARKERS:
        shapes.append(dict(type="line", xref=xref(n), x0=m, x1=m, yref=f"{yref(n)} domain", y0=0, y1=1,
                           line=dict(color="#E8232A", width=1.6, dash="6px,4px"), layer="above"))
    lines, xs = LEFT_TITLES[k]
    for txt, px in zip(lines, xs):
        annotations.append(dict(text=txt, x=fx(px), y=fy(panel_center(k)), xref="paper", yref="paper",
                                showarrow=False, textangle=-90, xanchor="center", yanchor="middle",
                                font=dict(family=SANS, size=13, color="black")))
    annotations.append(dict(text=f"<b>{PANEL_LABELS[k]}</b>", x=fx(118), y=fy(PANEL_LABEL_Y[k]),
                            xref="paper", yref="paper", showarrow=False, xanchor="left", yanchor="middle",
                            font=dict(family=SERIF, size=21, color="black")))

# ---------- right column ----------
x_major = X_TICK_VALUES
x_minor = [v + 0.5 for v in X_TICK_VALUES[1:]]
for k in range(NROW):
    n = k + 1 + NROW
    last = (k == NROW - 1)
    xcfg = dict(range=X_RANGE, tickmode="array", tickvals=x_major,
                ticktext=(X_TICK_TEXT if last else [""] * len(x_major)), ticklen=7,
                minor=dict(tickmode="array", tickvals=x_minor, ticklen=4, ticks="inside",
                           tickcolor="black", tickwidth=1.2))
    add_axes(n, k, [fx(RIGHT_X_PX[0]), fx(RIGHT_X_PX[1])], xcfg, RIGHT_AXES[k][0], yaxis_cfg(RIGHT_AXES[k]))
    xs, ys, shp = RIGHT_SERIES[k]
    if xs is None:
        xs = np.linspace(X_RANGE[0], X_RANGE[1], len(ys))
    fig.add_trace(go.Scatter(x=xs, y=ys, mode="lines", xaxis=xref(n), yaxis=yref(n),
                             line=dict(color="black", width=1.7, shape=shp, smoothing=0.8),
                             hoverinfo="skip"))
    if RIGHT_AXES[k][6]:
        shapes.append(dict(type="line", xref=f"{xref(n)} domain", x0=0, x1=1, yref=yref(n), y0=0, y1=0,
                           line=dict(color="#9c9c9c", width=1.4, dash="6px,5px"), layer="below"))
    for m in X_MARKERS:
        shapes.append(dict(type="line", xref=xref(n), x0=m, x1=m, yref=f"{yref(n)} domain", y0=0, y1=1,
                           line=dict(color="#E8232A", width=1.6, dash="6px,4px"), layer="above"))
    annotations.append(dict(text=RIGHT_TITLES[k], x=fx(679), y=fy(panel_center(k)), xref="paper",
                            yref="paper", showarrow=False, textangle=-90, xanchor="center",
                            yanchor="middle", font=dict(family=SANS, size=13, color="black")))

annotations.append(dict(text="<i>X</i> (d<sub>i</sub>)", x=fx(958), y=fy(816), xref="paper", yref="paper",
                        showarrow=False, xanchor="center", yanchor="middle",
                        font=dict(family=SANS, size=13, color="black")))

# ---------- big panel letters ----------
annotations.append(dict(text="<b>(a)</b>", x=fx(32), y=fy(50), xref="paper", yref="paper",
                        showarrow=False, xanchor="center", yanchor="middle",
                        font=dict(family=SERIF, size=42, color="black")))
annotations.append(dict(text="<b>(b)</b>", x=fx(640), y=fy(50), xref="paper", yref="paper",
                        showarrow=False, xanchor="center", yanchor="middle",
                        font=dict(family=SERIF, size=42, color="black")))

# ---------- legend (circles + names) ----------
LEG_CX = [184, 290, 400, 510]
LEG_TX = [197, 307, 419, 527]
for i, name in enumerate(SPACECRAFT):
    cx, cy, r = LEG_CX[i], 21, 11
    shapes.append(dict(type="circle", xref="paper", yref="paper",
                       x0=fx(cx - r), x1=fx(cx + r), y0=fy(cy + r), y1=fy(cy - r),
                       fillcolor=LEGEND_COLORS[i], line=dict(width=0)))
    annotations.append(dict(text=name, x=fx(LEG_TX[i]), y=fy(21), xref="paper", yref="paper",
                            showarrow=False, xanchor="left", yanchor="middle",
                            font=dict(family=SERIF, size=25, color="black")))

layout["shapes"] = shapes
layout["annotations"] = annotations
fig.update_layout(**layout)
fig.write_html("out.html")
